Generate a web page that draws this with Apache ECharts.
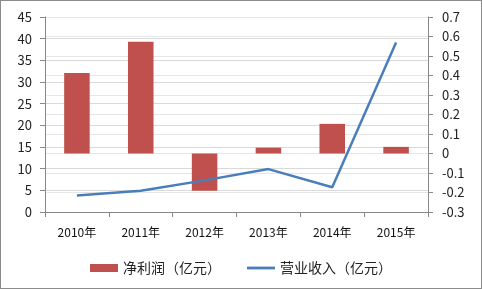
<!DOCTYPE html>
<html><head><meta charset="utf-8">
<script src="https://cdn.jsdelivr.net/npm/echarts@6/dist/echarts.min.js"></script>
<style>html,body{margin:0;padding:0;background:#fff}#c{position:absolute;left:0;top:0;width:480px;height:287px;border:1px solid #8c8c8c}</style>
</head><body><div id="c"></div>
<script>
const categories = ['2010年','2011年','2012年','2013年','2014年','2015年'];
const netProfit = [0.413, 0.573, -0.191, 0.03, 0.152, 0.034];
const revenue = [3.8, 4.9, 7.3, 9.9, 5.7, 39.1];
const seriesNames = ['净利润（亿元）','营业收入（亿元）'];
const font = '"Noto Sans CJK SC", "DejaVu Sans", sans-serif';
const chart = echarts.init(document.getElementById('c'));
chart.setOption({
  animation:false,
  textStyle:{fontFamily:font},
  grid:{left:44,right:53,top:16,bottom:76},
  legend:{bottom:8,left:'center',itemGap:26,
    textStyle:{fontSize:14,color:'#222',fontFamily:font},
    data:[{name:seriesNames[0],icon:'rect'},
          {name:seriesNames[1],icon:'path://M0,0H30V3H0Z'}],
    itemWidth:28,itemHeight:8},
  xAxis:{type:'category',data:categories,
    axisLine:{lineStyle:{color:'#888'}},
    axisTick:{show:true,length:5,lineStyle:{color:'#888'}},
    axisLabel:{fontSize:12,color:'#111',margin:14,fontFamily:font}},
  yAxis:[
    {type:'value',min:0,max:45,interval:5,
      axisLine:{show:true,lineStyle:{color:'#888'}},
      axisTick:{show:true,length:5,lineStyle:{color:'#888'}},
      axisLabel:{fontSize:13,color:'#222',margin:13},
      splitLine:{lineStyle:{color:'#d9d9d9'}}},
    {type:'value',min:-0.3,max:0.7,interval:0.1,
      axisLine:{show:true,lineStyle:{color:'#888'}},
      axisTick:{show:true,length:5,lineStyle:{color:'#888'}},
      axisLabel:{fontSize:13,color:'#222',margin:14,align:'left',
        formatter:v=>{const r=Math.round(v*10)/10;return r===0?'0':String(r);}},
      splitLine:{show:true,lineStyle:{color:'#e6e6e6'}}}
  ],
  series:[
    {name:seriesNames[0],type:'bar',yAxisIndex:1,data:netProfit,barWidth:'40%',
      itemStyle:{color:'#C0504D'}},
    {name:seriesNames[1],type:'line',yAxisIndex:0,data:revenue,symbol:'none',
      lineStyle:{color:'#4A7EBB',width:2.5},itemStyle:{color:'#4A7EBB'}}
  ]
});
</script></body></html>
